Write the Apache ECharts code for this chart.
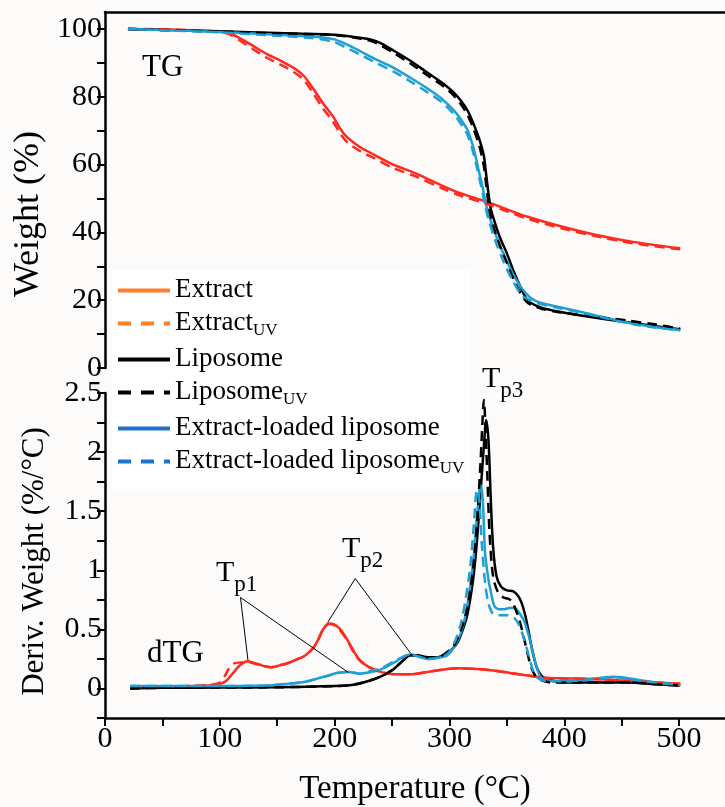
<!DOCTYPE html>
<html>
<head>
<meta charset="utf-8">
<script src="https://cdn.jsdelivr.net/npm/echarts@6/dist/echarts.min.js"></script>
<style>
  html, body { margin: 0; padding: 0; background: #fff; }
  #main { width: 725px; height: 807px; }
</style>
</head>
<body>
<div id="main"></div>
<script>
// TG / dTG curves, [temperature °C, value]
var tgExtract = [[20,100],[60,99.8],[100,99.2],[110,98.5],[120,96.8],[130,94.8],[141,92.6],[152,90.8],[164,88.6],[173,86.2],[181,82.6],[190,78],[199,74],[205,70.5],[211,68],[222,65.2],[235,62.8],[251,60],[270,57.5],[295,53.6],[310,51.5],[331,49.2],[350,46.8],[368,44.6],[400,41.5],[426,39.4],[460,37.2],[501,35.3]];
var tgExtractUV = [[20,100],[60,99.8],[100,99.1],[110,98.2],[120,96],[130,93.8],[141,91.5],[152,89.6],[164,87.4],[173,85],[181,81.2],[190,76.5],[199,72.5],[205,69],[211,66.6],[222,64],[235,61.8],[251,59],[270,56.6],[295,52.8],[310,50.8],[331,48.6],[350,46.2],[368,44],[400,41],[426,39],[460,36.8],[501,35]];
var tgLipo = [[20,100],[100,99.3],[150,98.8],[200,98.3],[222,97.4],[232,96.8],[240,95.8],[252,93.5],[266,90.6],[280,87.3],[295,83.8],[303,81.5],[310,78.8],[316,75.8],[321,72],[326,67.5],[330,62.5],[332,57],[334,51.5],[336,47],[339,43.5],[344,38.5],[350,33.8],[356,28.5],[362,23.8],[366,21],[370,19.4],[380,17.8],[397,16.5],[420,15.2],[455,13.5],[480,12.3],[501,11.4]];
var tgLipoUV = [[20,100],[100,99.2],[150,98.7],[200,98.2],[222,97.2],[232,96.4],[240,95.2],[252,92.8],[266,89.8],[280,86.5],[295,83],[303,80.6],[310,77.8],[316,74.5],[321,70.5],[326,65.5],[330,59.5],[332,54],[334,48.5],[336,44.5],[339,41],[344,36],[350,31],[356,26],[362,22],[366,20],[370,18.8],[380,17.5],[397,16.4],[420,15.4],[455,14],[480,12.8],[501,11.6]];
var tgLoaded = [[20,100],[60,99.6],[100,99.1],[150,98.3],[180,97.8],[199,97],[210,95.5],[222,93.5],[235,91.2],[251,88.6],[266,85.6],[281,82.4],[293,79.5],[304,75.9],[311,72.8],[316,70],[320,66],[323,62],[326,57.5],[329,53.2],[331,49.5],[334,45.6],[340,39.5],[347,33.8],[355,28],[363,23.5],[371,20.6],[380,19.2],[395,18],[411,16.8],[430,15.3],[445,14.1],[464,12.8],[480,12],[501,11.2]];
var tgLoadedUV = [[20,100],[60,99.5],[100,99],[150,98],[180,97.3],[199,96.2],[210,94.5],[222,92.5],[235,90.2],[251,87.5],[266,84.5],[281,81.3],[293,78.5],[304,74.8],[311,71.5],[316,68.5],[320,64.5],[323,60.5],[326,56],[329,51.5],[331,48],[334,44],[340,37.5],[347,31.5],[355,25.8],[363,21.5],[371,19.8],[380,18.8],[395,17.7],[411,16.6],[430,15.2],[445,14],[464,12.7],[480,11.9],[501,11.1]];

var dtgExtract = [[23,0],[30,0.01],[60,0.015],[90,0.025],[100,0.04],[105,0.06],[109,0.1],[114,0.16],[118,0.2],[124,0.23],[130,0.215],[135,0.2],[140,0.185],[145,0.18],[152,0.195],[161,0.22],[168,0.25],[173,0.27],[178,0.31],[182,0.35],[186,0.42],[190,0.5],[195,0.55],[199,0.545],[204,0.51],[208,0.46],[213,0.38],[217,0.31],[222,0.24],[230,0.18],[240,0.14],[253,0.12],[266,0.12],[281,0.14],[295,0.16],[307,0.17],[324,0.165],[340,0.15],[353,0.13],[368,0.11],[382,0.09],[400,0.085],[426,0.08],[455,0.065],[480,0.05],[501,0.04]];
var dtgExtractUV = [[23,0],[30,0.01],[60,0.015],[90,0.03],[100,0.05],[104,0.1],[108,0.17],[112,0.21],[118,0.22],[124,0.225],[130,0.21],[135,0.2],[140,0.185],[145,0.18],[152,0.195],[161,0.22],[168,0.25],[173,0.27],[178,0.31],[182,0.35],[186,0.42],[190,0.5],[195,0.545],[199,0.54],[204,0.5],[208,0.45],[213,0.37],[217,0.3],[222,0.235],[230,0.18],[240,0.14],[253,0.12],[266,0.12],[281,0.14],[295,0.16],[307,0.17],[324,0.165],[340,0.15],[353,0.13],[368,0.11],[382,0.09],[400,0.085],[426,0.08],[455,0.065],[480,0.05],[501,0.04]];
var dtgLipo = [[22,0],[50,0.005],[100,0.008],[150,0.01],[200,0.02],[215,0.03],[225,0.05],[240,0.1],[251,0.16],[260,0.24],[266,0.28],[272,0.28],[281,0.265],[290,0.265],[297,0.29],[303,0.34],[307,0.39],[311,0.48],[315,0.6],[318,0.75],[321,0.95],[324,1.25],[327,1.65],[330,2.05],[332,2.27],[334,2.1],[336,1.6],[338,1.2],[341,0.95],[345,0.86],[350,0.83],[356,0.82],[360,0.78],[363,0.72],[366,0.62],[369,0.48],[372,0.33],[376,0.18],[381,0.1],[390,0.065],[400,0.05],[430,0.05],[455,0.05],[480,0.035],[501,0.025]];
var dtgLipoUV = [[22,0],[50,0.005],[100,0.008],[150,0.01],[200,0.02],[215,0.03],[225,0.05],[240,0.1],[251,0.16],[260,0.24],[266,0.28],[272,0.28],[281,0.265],[290,0.265],[297,0.3],[303,0.35],[307,0.42],[311,0.52],[315,0.66],[318,0.82],[321,1.05],[324,1.4],[327,1.9],[329,2.3],[330,2.44],[331,2.3],[333,1.8],[335,1.3],[338,0.95],[342,0.82],[347,0.77],[351,0.76],[354,0.74],[358,0.66],[362,0.54],[366,0.38],[370,0.22],[374,0.12],[380,0.07],[390,0.05],[430,0.05],[455,0.05],[480,0.035],[501,0.025]];
var dtgLoaded = [[22,0.02],[60,0.02],[100,0.02],[140,0.025],[160,0.04],[170,0.05],[180,0.07],[187,0.09],[195,0.11],[202,0.13],[212,0.14],[222,0.125],[232,0.14],[240,0.16],[252,0.22],[260,0.27],[266,0.29],[273,0.27],[281,0.25],[290,0.26],[298,0.28],[304,0.35],[310,0.47],[314,0.62],[318,0.86],[321,1.1],[324,1.45],[327,1.72],[329,1.6],[331,1.15],[334,0.92],[336,0.82],[339,0.7],[343,0.67],[347,0.67],[352,0.68],[356,0.68],[360,0.65],[365,0.57],[369,0.45],[372,0.33],[376,0.18],[380,0.09],[388,0.065],[397,0.06],[410,0.065],[426,0.08],[436,0.095],[443,0.1],[450,0.095],[460,0.08],[480,0.05],[501,0.03]];
var dtgLoadedUV = [[22,0.02],[60,0.02],[100,0.02],[140,0.025],[160,0.04],[170,0.05],[180,0.07],[187,0.09],[195,0.11],[202,0.13],[212,0.14],[222,0.125],[232,0.15],[240,0.17],[252,0.23],[260,0.27],[266,0.29],[273,0.27],[281,0.25],[290,0.26],[298,0.29],[304,0.38],[310,0.55],[314,0.75],[318,1.02],[321,1.35],[324,1.68],[326,1.6],[328,1.25],[331,0.9],[334,0.72],[338,0.63],[343,0.62],[350,0.62],[356,0.6],[360,0.55],[365,0.42],[369,0.28],[373,0.15],[378,0.08],[388,0.06],[397,0.06],[410,0.065],[426,0.08],[436,0.09],[443,0.095],[450,0.09],[460,0.075],[480,0.05],[501,0.03]];

var seriesNames = ['Extract', 'ExtractUV', 'Liposome', 'LiposomeUV', 'Extract-loaded liposome', 'Extract-loaded liposomeUV'];
var lineColors = ['#ff2a1f', '#ff2a1f', '#000000', '#000000', '#1ea0d4', '#1ea0d4'];
var legendColors = ['#ff7f27', '#ff7f27', '#000000', '#000000', '#1f72d0', '#1f72d0'];
var dashed = [false, true, false, true, false, true];
var tgData = [tgExtract, tgExtractUV, tgLipo, tgLipoUV, tgLoaded, tgLoadedUV];
var dtgData = [dtgExtract, dtgExtractUV, dtgLipo, dtgLipoUV, dtgLoaded, dtgLoadedUV];

// ticks and labels
var xTicks = [0, 50, 100, 150, 200, 250, 300, 350, 400, 450, 500];
var xLabels = [0, 100, 200, 300, 400, 500];
var tgTicks = [0, 10, 20, 30, 40, 50, 60, 70, 80, 90, 100];
var tgLabels = [0, 20, 40, 60, 80, 100];
var dtgTicks = [-0.25, 0, 0.25, 0.5, 0.75, 1, 1.25, 1.5, 1.75, 2, 2.25, 2.5];
var dtgLabels = [0, 0.5, 1, 1.5, 2, 2.5];

// leader lines for the peak labels (data coords on the dTG panel)
var tp1Lines = [[[118, 0.77], [124.5, 0.24]], [[118, 0.77], [212, 0.135]]];
var tp2Lines = [[[218, 0.93], [194, 0.56]], [[218, 0.93], [266, 0.3]]];

var FONT = 'Liberation Serif';

var series = [];
for (var i = 0; i < seriesNames.length; i++) {
  [tgData, dtgData].forEach(function (d, g) {
    series.push({
      name: seriesNames[i],
      type: 'line',
      xAxisIndex: g,
      yAxisIndex: g,
      data: d[i],
      symbol: 'none',
      smooth: 0.3,
      z: dashed[i] ? 3 : 2,
      lineStyle: {
        color: lineColors[i],
        width: 2.5,
        type: dashed[i] ? [10, 6] : 'solid'
      },
      itemStyle: { color: lineColors[i] }
    });
  });
}

var leaderData = tp1Lines.concat(tp2Lines).map(function (l) {
  return [{ coord: l[0] }, { coord: l[1] }];
});
series.push({
  type: 'line',
  xAxisIndex: 1,
  yAxisIndex: 1,
  data: [],
  silent: true,
  markLine: {
    silent: true,
    symbol: 'none',
    animation: false,
    label: { show: false },
    lineStyle: { color: '#000', width: 1, type: 'solid' },
    data: leaderData
  }
});

var axisLine = { show: true, onZero: false, lineStyle: { color: '#000', width: 2.5 } };
var tickStyle = { color: '#000', width: 2 };
var labelStyle = { color: '#000', fontFamily: FONT, fontSize: 30 };

function subText(t, s, x, y) {
  return {
    type: 'text', left: x, top: y, z: 10,
    style: {
      text: '{t|' + t + '}{s|' + s + '}',
      rich: {
        t: { fontFamily: FONT, fontSize: 30, lineHeight: 30, verticalAlign: 'top', fill: '#000' },
        s: { fontFamily: FONT, fontSize: 23, lineHeight: 23, padding: [15, 0, 0, 0], verticalAlign: 'top', fill: '#000' }
      }
    }
  };
}

var option = {
  backgroundColor: '#fdfafa',
  animation: false,
  grid: [
    { left: 105, right: 0, top: 12, height: 356 },
    { left: 105, right: 0, top: 393, height: 326 }
  ],
  xAxis: [
    {
      gridIndex: 0, type: 'value', min: 0, max: 540, position: 'top',
      axisLine: axisLine, axisTick: { show: false }, axisLabel: { show: false }, splitLine: { show: false }
    },
    {
      gridIndex: 1, type: 'value', min: 0, max: 540,
      axisLine: axisLine,
      axisTick: { customValues: xTicks, length: 8, lineStyle: tickStyle },
      axisLabel: Object.assign({ customValues: xLabels, margin: 6 }, labelStyle),
      splitLine: { show: false },
      name: 'Temperature (°C)', nameLocation: 'middle', nameGap: 55,
      nameTextStyle: { color: '#000', fontFamily: FONT, fontSize: 33 }
    }
  ],
  yAxis: [
    {
      gridIndex: 0, type: 'value', min: 0, max: 105,
      axisLine: axisLine,
      axisTick: { customValues: tgTicks, length: 8, lineStyle: tickStyle },
      axisLabel: Object.assign({ customValues: tgLabels, margin: 3 }, labelStyle),
      splitLine: { show: false },
      name: 'Weight (%)', nameLocation: 'middle', nameGap: 56,
      nameTextStyle: { color: '#000', fontFamily: FONT, fontSize: 36, padding: [0, 48, 0, 0] }
    },
    {
      gridIndex: 1, type: 'value', min: -0.25, max: 2.5,
      axisLine: axisLine,
      axisTick: { customValues: dtgTicks, length: 8, lineStyle: tickStyle },
      axisLabel: Object.assign({ customValues: dtgLabels, margin: 3 }, labelStyle),
      splitLine: { show: false },
      name: 'Deriv. Weight (%/°C)', nameLocation: 'middle', nameGap: 55,
      nameTextStyle: { color: '#000', fontFamily: FONT, fontSize: 31, padding: [0, 12, 0, 0] }
    }
  ],
  legend: {
    show: true,
    orient: 'vertical',
    left: 112,
    top: 270,
    backgroundColor: '#ffffff',
    padding: [6, 6, 12, 4],
    itemWidth: 52,
    itemHeight: 14,
    itemGap: 6,
    z: 5,
    data: seriesNames.map(function (n, i) {
      return {
        name: n,
        itemStyle: { color: legendColors[i], opacity: 0 },
        lineStyle: { color: legendColors[i], width: 4, type: dashed[i] ? [13, 10] : 'solid' }
      };
    }),
    formatter: function (name) {
      if (/UV$/.test(name)) return '{n|' + name.slice(0, -2) + '}{s|UV}';
      return '{n|' + name + '}';
    },
    textStyle: {
      color: '#000',
      rich: {
        n: { fontFamily: FONT, fontSize: 27, lineHeight: 29, verticalAlign: 'top' },
        s: { fontFamily: FONT, fontSize: 17, lineHeight: 17, padding: [13, 0, 0, 0], verticalAlign: 'top' }
      }
    }
  },
  graphic: [
    { type: 'text', left: 142, top: 52, style: { text: 'TG', font: '31px "Liberation Serif"', fill: '#000' } },
    { type: 'text', left: 147, top: 638, style: { text: 'dTG', font: '31px "Liberation Serif"', fill: '#000' } },
    subText('T', 'p1', 216, 558),
    subText('T', 'p2', 342, 534),
    subText('T', 'p3', 482, 364)
  ],
  series: series
};

var chart = echarts.init(document.getElementById('main'));
chart.setOption(option);
</script>
</body>
</html>
